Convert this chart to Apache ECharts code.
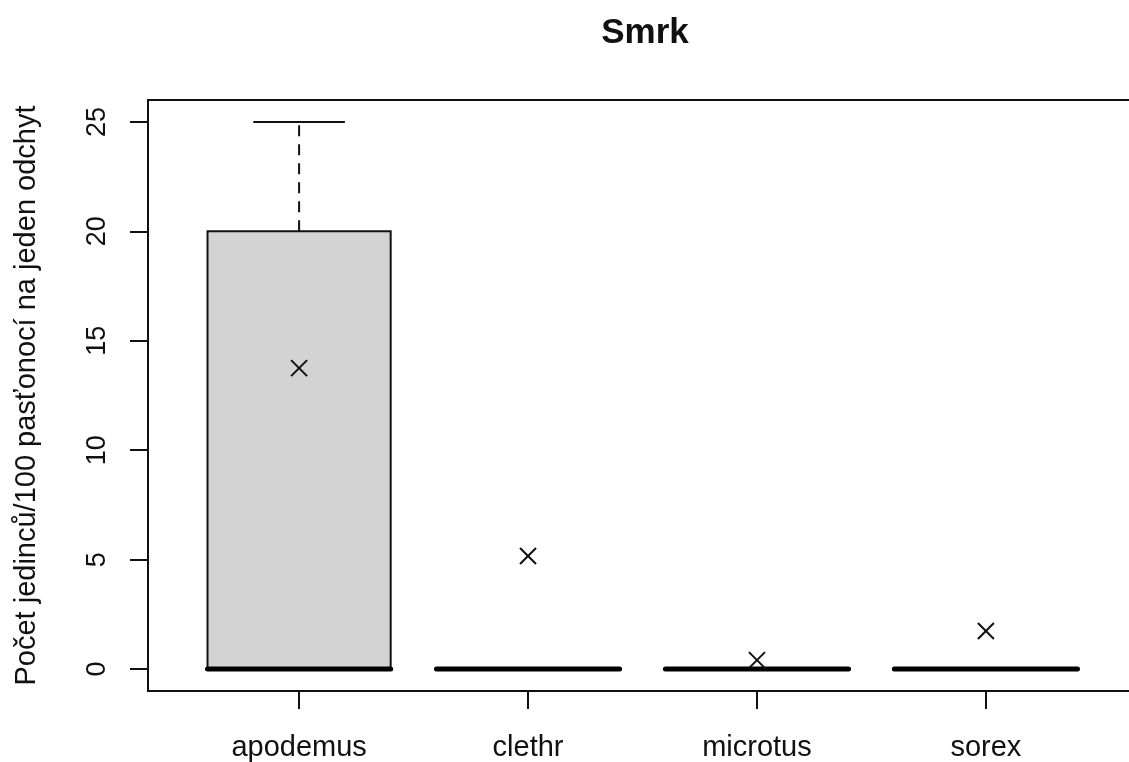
<!DOCTYPE html>
<html>
<head>
<meta charset="utf-8">
<script src="https://cdn.jsdelivr.net/npm/echarts@6/dist/echarts.min.js"></script>
<style>
html,body{margin:0;padding:0;background:#fff;overflow:hidden;}
#chart{width:1129px;height:762px;}
</style>
</head>
<body>
<div id="chart"></div>
<script>
const categories = ['apodemus', 'clethr', 'microtus', 'sorex'];
const boxMin    = [0, 0, 0, 0];
const boxQ1     = [0, 0, 0, 0];
const boxMedian = [0, 0, 0, 0];
const boxQ3     = [20, 0, 0, 0];
const boxMax    = [25, 0, 0, 0];
const means     = [13.75, 5.17, 0.41, 1.74];
const yTicks    = [0, 5, 10, 15, 20, 25];
const titleText = 'Smrk';
const yTitle    = 'Počet jedinců/100 pasťonocí na jeden odchyt';

const FONT = "'Liberation Sans', Arial, Helvetica, sans-serif";
const INK = '#111';

const xPos = categories.map((c, i) => i + 1);
const boxData = categories.map((c, i) => [xPos[i], boxMin[i], boxQ1[i], boxMedian[i], boxQ3[i], boxMax[i]]);
const meanData = categories.map((c, i) => [xPos[i], means[i]]);

const BOXHALF = 0.4, CAPHALF = 0.2;

function renderBox(params, api) {
  const x = api.value(0);
  const mn = api.value(1), q1 = api.value(2), md = api.value(3), q3 = api.value(4), mx = api.value(5);
  const pL = api.coord([x - BOXHALF, q3]);
  const pR = api.coord([x + BOXHALF, q1]);
  const children = [];
  children.push({
    type: 'rect',
    shape: { x: pL[0], y: pL[1], width: pR[0] - pL[0], height: pR[1] - pL[1] },
    style: { fill: '#d3d3d3', stroke: INK, lineWidth: 2 }
  });
  const wTop = api.coord([x, mx]), wQ3 = api.coord([x, q3]);
  const wBot = api.coord([x, mn]), wQ1 = api.coord([x, q1]);
  if (mx > q3) children.push({ type: 'line', shape: { x1: wQ3[0], y1: wQ3[1], x2: wTop[0], y2: wTop[1] }, style: { stroke: INK, lineWidth: 2, lineDash: [11, 8] } });
  if (mn < q1) children.push({ type: 'line', shape: { x1: wQ1[0], y1: wQ1[1], x2: wBot[0], y2: wBot[1] }, style: { stroke: INK, lineWidth: 2, lineDash: [11, 8] } });
  const capT1 = api.coord([x - CAPHALF, mx]), capT2 = api.coord([x + CAPHALF, mx]);
  const capB1 = api.coord([x - CAPHALF, mn]), capB2 = api.coord([x + CAPHALF, mn]);
  children.push({ type: 'line', shape: { x1: capT1[0], y1: capT1[1], x2: capT2[0], y2: capT2[1] }, style: { stroke: INK, lineWidth: 2 } });
  children.push({ type: 'line', shape: { x1: capB1[0], y1: capB1[1], x2: capB2[0], y2: capB2[1] }, style: { stroke: INK, lineWidth: 2 } });
  const m1 = api.coord([x - BOXHALF, md]), m2 = api.coord([x + BOXHALF, md]);
  children.push({ type: 'line', shape: { x1: m1[0], y1: m1[1], x2: m2[0], y2: m2[1] }, style: { stroke: '#000', lineWidth: 5, lineCap: 'round' } });
  return { type: 'group', children: children };
}

function renderMean(params, api) {
  const p = api.coord([api.value(0), api.value(1)]);
  const h = 8;
  return {
    type: 'group',
    children: [
      { type: 'line', shape: { x1: p[0] - h, y1: p[1] - h, x2: p[0] + h, y2: p[1] + h }, style: { stroke: INK, lineWidth: 2 } },
      { type: 'line', shape: { x1: p[0] - h, y1: p[1] + h, x2: p[0] + h, y2: p[1] - h }, style: { stroke: INK, lineWidth: 2 } }
    ]
  };
}

const chart = echarts.init(document.getElementById('chart'), null, { renderer: 'canvas' });
chart.setOption({
  animation: false,
  backgroundColor: '#fff',
  title: {
    text: titleText,
    left: 640, top: 11, textAlign: 'center',
    textStyle: { fontFamily: FONT, fontSize: 35, fontWeight: 'bold', color: INK }
  },
  grid: {
    left: 148, top: 100, width: 989, height: 591,
    containLabel: false, outerBoundsMode: 'none',
    show: true, borderColor: INK, borderWidth: 2, backgroundColor: 'transparent'
  },
  xAxis: {
    type: 'value', min: 0.34, max: 4.66,
    splitLine: { show: false },
    axisLine: { show: true, onZero: false, lineStyle: { color: INK, width: 2 } },
    axisTick: { show: true, length: 18, customValues: xPos, lineStyle: { color: INK, width: 2 } },
    axisLabel: {
      customValues: xPos, margin: 42,
      formatter: v => categories[Math.round(v) - 1] || '',
      fontFamily: FONT, fontSize: 29, color: INK
    }
  },
  yAxis: {
    type: 'value', min: -1, max: 26,
    splitLine: { show: false },
    axisLine: { show: true, onZero: false, lineStyle: { color: INK, width: 2 } },
    axisTick: { show: true, length: 18, customValues: yTicks, lineStyle: { color: INK, width: 2 } },
    axisLabel: {
      customValues: yTicks, rotate: 90, margin: 37,
      fontFamily: FONT, fontSize: 27, color: INK
    },
    name: yTitle, nameLocation: 'middle', nameGap: 107, nameRotate: 90,
    nameTextStyle: { fontFamily: FONT, fontSize: 29, color: INK }
  },
  series: [
    { type: 'custom', name: 'box', renderItem: renderBox, data: boxData, encode: { x: 0, y: [1, 2, 3, 4, 5] }, z: 2 },
    { type: 'custom', name: 'mean', renderItem: renderMean, data: meanData, encode: { x: 0, y: 1 }, z: 3 }
  ]
});
</script>
</body>
</html>
